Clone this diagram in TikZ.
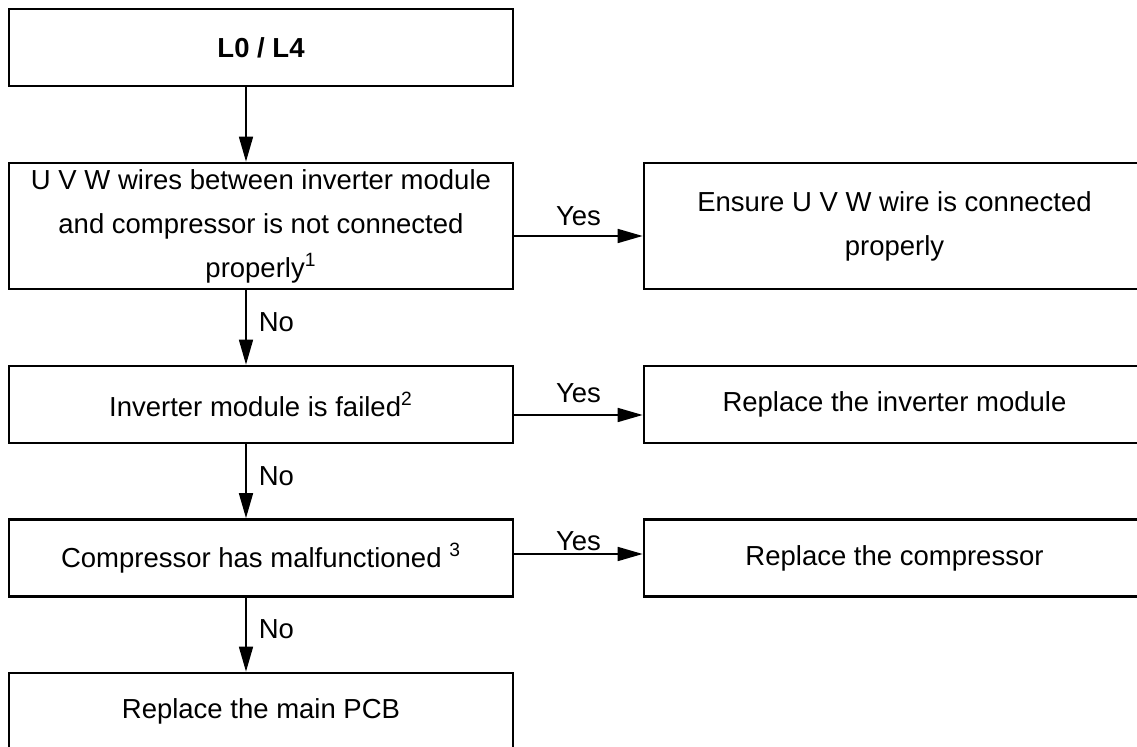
\documentclass[tikz,border=0pt]{standalone}
\usepackage{fontspec}
\setmainfont{Liberation Sans}
\usetikzlibrary{arrows.meta}
\begin{document}
\begin{tikzpicture}[x=0.5pt, y=-0.5pt,
		flowbox/.style={draw, rectangle, line width=1.35pt, inner sep=0pt, align=center,
			minimum width=252pt, minimum height=38.5pt, font=\fontsize{13.75}{22}\selectfont},
		sidebox/.style={flowbox, minimum width=250.5pt},
		flowarrow/.style={line width=0.85pt, -{Triangle[length=12.5pt, width=7pt]}},
		flowlabel/.style={inner sep=0pt, font=\fontsize{13.75}{22}\selectfont}]
	\useasboundingbox (0,0) rectangle (1137,747);
	\clip (0,0) rectangle (1137,747);
	\node[flowbox] (start) at (261,47.5) {\textbf{L0 / L4}};
	\node[flowbox, minimum height=63pt] (wires) at (261,226) {U V W wires between inverter module\\and compressor is not connected\\properly\textsuperscript{1}};
	\node[sidebox, minimum height=63pt] (fixwires) at (894.5,226) {Ensure U V W wire is connected\\properly};
	\node[flowbox] (module) at (261,404.5) {Inverter module is failed\textsuperscript{2}};
	\node[sidebox] (newmodule) at (894.5,404.5) {Replace the inverter module};
	\node[flowbox] (comp) at (261,558) {Compressor has malfunctioned \textsuperscript{3}};
	\node[sidebox] (newcomp) at (894.5,558) {Replace the compressor};
	\node[flowbox] (pcb) at (261,711.5) {Replace the main PCB};
	\draw[flowarrow] ([xshift=-7.5pt]start.south) -- ([xshift=-7.5pt]wires.north);
	\draw[flowarrow] ([yshift=-5pt]wires.east) -- ([yshift=-5pt]fixwires.west) node[flowlabel, midway, above=4.5pt] {Yes};
	\draw[flowarrow] ([xshift=-7.5pt]wires.south) -- ([xshift=-7.5pt]module.north) node[flowlabel, midway, right=6pt, yshift=2.75pt] {No};
	\draw[flowarrow] ([yshift=-5.25pt]module.east) -- ([yshift=-5.25pt]newmodule.west) node[flowlabel, midway, above=5.5pt] {Yes};
	\draw[flowarrow] ([xshift=-7.5pt]module.south) -- ([xshift=-7.5pt]comp.north) node[flowlabel, midway, right=6pt, yshift=2.75pt] {No};
	\draw[flowarrow] ([yshift=2pt]comp.east) -- ([yshift=2pt]newcomp.west) node[flowlabel, midway, above=1pt] {Yes};
	\draw[flowarrow] ([xshift=-7.5pt]comp.south) -- ([xshift=-7.5pt]pcb.north) node[flowlabel, midway, right=6pt, yshift=2.75pt] {No};
\end{tikzpicture}
\end{document}
